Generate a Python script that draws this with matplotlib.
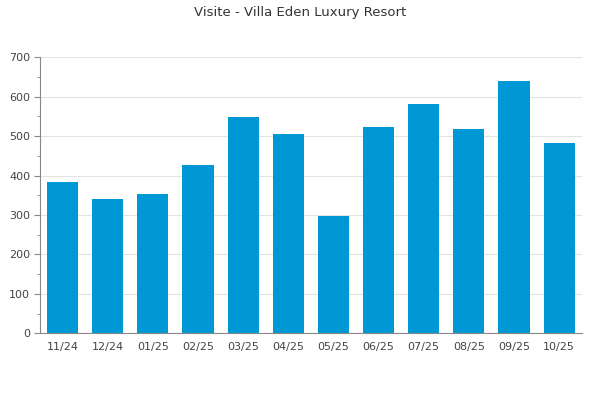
import matplotlib.pyplot as plt
from matplotlib.ticker import MultipleLocator

months = ["11/24", "12/24", "01/25", "02/25", "03/25", "04/25",
          "05/25", "06/25", "07/25", "08/25", "09/25", "10/25"]
visits = [384, 340, 353, 426, 548, 505, 298, 522, 581, 517, 639, 482]

fig = plt.figure(figsize=(6, 4), dpi=100)
ax = fig.add_axes([0.0667, 0.1667, 0.9028, 0.6903])

ax.bar(range(len(months)), visits, width=0.69, color="#0098d4", zorder=2)

ax.set_xlim(-0.5, len(months) - 0.5)
ax.set_ylim(0, 700)
ax.set_xticks(range(len(months)))
ax.set_xticklabels(months)
ax.yaxis.set_major_locator(MultipleLocator(100))
ax.yaxis.set_minor_locator(MultipleLocator(50))

ax.grid(axis="y", color="#e3e3e3", linewidth=0.8, zorder=0)
for side in ("top", "right"):
    ax.spines[side].set_visible(False)
for side in ("left", "bottom"):
    ax.spines[side].set_color("#888888")
    ax.spines[side].set_linewidth(0.8)

ax.tick_params(axis="x", length=0, pad=6, labelsize=8, labelcolor="#444444")
ax.tick_params(axis="y", which="major", length=4, color="#888888",
               labelsize=8, labelcolor="#444444", pad=3)
ax.tick_params(axis="y", which="minor", length=2, color="#888888")

fig.suptitle("Visite - Villa Eden Luxury Resort", y=0.985, fontsize=9.5,
             color="#333333")

fig.savefig("out.png", dpi=100)
